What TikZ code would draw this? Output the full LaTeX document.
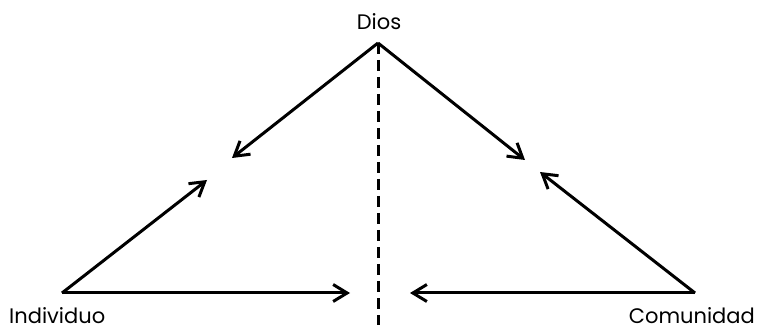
\documentclass[tikz,border=0pt]{standalone}
\usepackage{fontspec}
\setmainfont{Poppins}
\usetikzlibrary{arrows.meta}
\begin{document}
\begin{tikzpicture}[x=1pt,y=1pt,
  conn/.style={line width=3pt,-{Straight Barb[length=14pt,width=17pt,line width=3pt]}},
  lbl/.style={font=\fontsize{21}{24}\selectfont, inner sep=0pt},
  axis/.style={line width=3pt,dash pattern=on 11pt off 6pt}]
\useasboundingbox (0,0) rectangle (762,329);
\coordinate (top) at (378,286);
\coordinate (L) at (62,36);
\coordinate (R) at (695,36);
\coordinate (tl) at (232,171);
\coordinate (tl2) at (207,149);
\coordinate (tr) at (525,169);
\coordinate (tr2) at (540,157);
\coordinate (bl) at (350,36);
\coordinate (br) at (410,36);
\coordinate (d1) at (378,286);
\coordinate (d2) at (378,4);
\node[lbl,anchor=base] (dios) at (379,299) {Dios};
\node[lbl,anchor=base west] (ind) at (9,6) {Individuo};
\node[lbl,anchor=base east] (com) at (755,6) {Comunidad};
\draw[axis] (d1) -- (d2);
\draw[conn] (top) -- (tl);
\draw[conn] (top) -- (tr);
\draw[conn] (L) -- (tl2);
\draw[conn] (R) -- (tr2);
\draw[conn] (L) -- (bl);
\draw[conn] (R) -- (br);
\end{tikzpicture}
\end{document}
